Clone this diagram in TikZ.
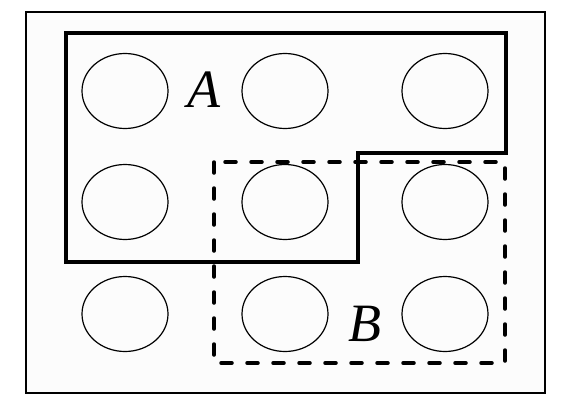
\documentclass[tikz,border=0pt]{standalone}
\usepackage{fontspec}
\setmainfont{Liberation Serif}
\newfontfamily\setfont{Liberation Serif}[UprightFont=*, ItalicFont=* Italic]
\usepackage{tikz}
\usetikzlibrary{shapes.geometric, positioning, calc}
\definecolor{panelgray}{HTML}{FCFCFC}

\begin{document}
\begin{tikzpicture}[
  x=1pt, y=-1pt,
  cell/.style={ellipse, draw=black, line width=1.2pt, minimum width=86pt, minimum height=75pt, inner sep=0pt},
  setA/.style={draw=black, line width=3.5pt, line join=miter},
  setB/.style={draw=black, line width=3.5pt, line cap=round, dash pattern=on 11pt off 15pt},
  setlabel/.style={font=\fontsize{54}{54}\setfont\itshape, inner sep=0pt}
]
  \useasboundingbox (0,0) rectangle (564,412);
  \draw[line width=2pt, fill=panelgray] (26,12) rectangle (545,393);
  % points
  \foreach \r/\y in {1/91, 2/202, 3/314} {
    \foreach \c/\x in {1/125, 2/285, 3/445} {
      \node[cell] (e\r\c) at (\x,\y) {};
    }
  }
  % set A
  \draw[setA] (66,33) -- (506,33) -- (506,153) -- (358,153) -- (358,262) -- (66,262) -- cycle;
  % set B
  \draw[setB] (214,162) rectangle (505,363);
  \node[setlabel] (labA) at (204,90) {A};
  \node[setlabel] (labB) at (365,324) {B};
\end{tikzpicture}
\end{document}
